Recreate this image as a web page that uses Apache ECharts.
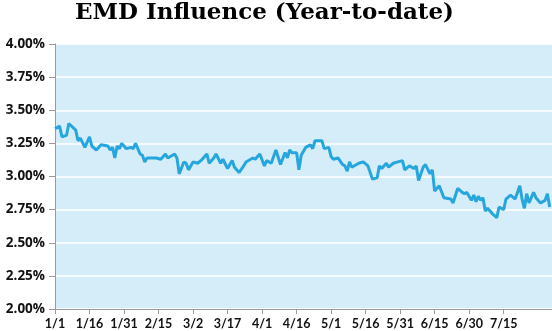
<!DOCTYPE html>
<html>
<head>
<meta charset="utf-8">
<script src="https://cdn.jsdelivr.net/npm/echarts@6/dist/echarts.min.js"></script>
<style>
html,body{margin:0;padding:0;background:#fff;}
#c{width:552px;height:331px;}
</style>
</head>
<body>
<div id="c"></div>
<script>
// Day offsets from Jan 1 (non-leap year)
var days = [0,2,3,5,6,9,10,11,13,15,16,18,20,23,24,25,26,27,28,29,31,33,34,35,37,38,39,40,42,44,46,48,49,52,53,54,56,57,58,60,62,64,66,67,69,70,72,73,75,77,78,80,82,83,86,87,89,91,92,94,96,98,100,101,102,103,105,106,107,109,111,112,113,114,116,117,119,120,121,123,125,126,127,128,129,132,134,136,138,140,141,142,144,145,147,149,151,152,154,156,157,158,160,161,163,164,165,167,169,172,173,175,177,178,179,181,182,183,184,185,186,187,188,190,192,193,195,196,198,200,202,203,204,205,206,208,209,211,213,214,215];
// EMD influence values (%)
var values = [3.36,3.38,3.30,3.31,3.40,3.35,3.27,3.29,3.22,3.30,3.23,3.20,3.24,3.23,3.20,3.22,3.14,3.23,3.21,3.25,3.21,3.22,3.21,3.25,3.17,3.16,3.11,3.14,3.14,3.14,3.13,3.17,3.14,3.17,3.14,3.02,3.11,3.10,3.05,3.11,3.10,3.13,3.17,3.10,3.14,3.17,3.10,3.13,3.06,3.12,3.07,3.03,3.08,3.11,3.14,3.13,3.17,3.08,3.12,3.10,3.20,3.09,3.18,3.14,3.20,3.18,3.18,3.05,3.16,3.22,3.24,3.21,3.27,3.27,3.27,3.21,3.22,3.15,3.13,3.14,3.09,3.08,3.04,3.11,3.07,3.10,3.11,3.08,2.98,2.99,3.08,3.06,3.10,3.07,3.10,3.11,3.12,3.05,3.08,3.06,3.08,2.97,3.07,3.09,3.02,3.05,2.89,2.93,2.84,2.83,2.80,2.91,2.88,2.87,2.88,2.82,2.86,2.81,2.85,2.82,2.84,2.74,2.76,2.72,2.69,2.77,2.75,2.83,2.86,2.83,2.93,2.83,2.76,2.87,2.80,2.88,2.84,2.80,2.82,2.87,2.77];
// Tick labels every 15 days
var xTickLabels = ['1/1','1/16','1/31','2/15','3/2','3/17','4/1','4/16','5/1','5/16','5/31','6/15','6/30','7/15'];
var xTickDays = [0,15,30,45,60,75,90,105,120,135,150,165,180,195];
var yTicks = [2.00,2.25,2.50,2.75,3.00,3.25,3.50,3.75,4.00];

var seriesData = days.map(function(d,i){return [d, values[i]];});

var chart = echarts.init(document.getElementById('c'), null, {renderer:'canvas'});
chart.setOption({
  animation:false,
  title:{
    text:'EMD Influence (Year-to-date)',
    left:70, top:-3,
    textStyle:{fontFamily:'DejaVu Serif', fontWeight:'bold', fontSize:23, color:'#000'}
  },
  grid:{left:55, right:0, top:44, bottom:22, show:true, backgroundColor:'#d5edf9', borderWidth:0},
  xAxis:{
    type:'value', min:0, max:216, interval:15,
    axisLine:{show:true, onZero:false, lineStyle:{color:'#9a9a9a', width:1}},
    axisTick:{show:true, length:5, customValues:xTickDays, lineStyle:{color:'#9a9a9a'}},
    splitLine:{show:false},
    axisLabel:{
      customValues:xTickDays,
      margin:8,
      fontFamily:'Lato', fontWeight:'bold', fontSize:12.5, color:'#111',
      formatter:function(v){var k=xTickDays.indexOf(Math.round(v)); return k>=0 ? xTickLabels[k] : '';}
    }
  },
  yAxis:{
    type:'value', min:2, max:4, interval:0.25,
    axisLine:{show:true, lineStyle:{color:'#9a9a9a', width:1}},
    axisTick:{show:true, length:6, lineStyle:{color:'#9a9a9a'}},
    splitLine:{show:true, lineStyle:{color:'#ffffff', width:1.5}},
    axisLabel:{
      margin:10,
      fontFamily:'Open Sans', fontWeight:'bold', fontSize:13.5, color:'#111',
      formatter:function(v){
        var idx = yTicks.indexOf(Math.round(v*100)/100);
        return (idx>=0 ? yTicks[idx] : v).toFixed(2)+'%';
      }
    }
  },
  series:[{
    type:'line', data:seriesData, showSymbol:false, symbol:'none',
    lineStyle:{color:'#27a6dd', width:3}, smooth:false
  }]
});
</script>
</body>
</html>
